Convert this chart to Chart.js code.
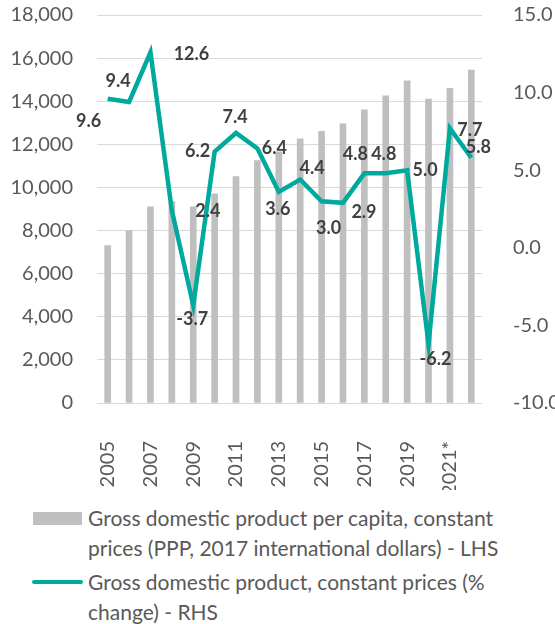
<!DOCTYPE html>
<html>
<head>
<meta charset="utf-8">
<script src="https://cdn.jsdelivr.net/npm/chart.js@4"></script>
<style>
  body { margin: 0; background: #fff; }
  #wrap { position: relative; width: 555px; height: 624px; }
  #chart { position: absolute; left: 0; top: 0; }
  #legend { position: absolute; left: 0; top: 0; font-family: Lato, sans-serif; font-size: 21px; color: #595959; }
  .item { position: absolute; left: 88px; line-height: 30px; width: 414px; }
  .swatch { position: absolute; }
</style>
</head>
<body>
<div id="wrap">
  <canvas id="chart" width="555" height="490"></canvas>
  <div id="legend"></div>
</div>
<script>
// categories
const years = ["2005", "2006", "2007", "2008", "2009", "2010", "2011", "2012", "2013",
   "2014", "2015", "2016", "2017", "2018", "2019", "2020", "2021*", "2022*"];

// GDP per capita, PPP 2017 intl $ (LHS)
const gdpPerCapita = [7300, 8000, 9100, 9350, 9100, 9700, 10500, 11250, 11650,
   12250, 12600, 12950, 13600, 14250, 14950, 14100, 14600, 15450];

// GDP growth % (RHS)
const gdpGrowth = [9.6, 9.4, 12.6, 2.4, -3.7, 6.2, 7.4, 6.4, 3.6,
   4.4, 3.0, 2.9, 4.8, 4.8, 5.0, -6.2, 7.7, 5.8];

const barLabel = "Gross domestic product per capita, constant prices (PPP, 2017 international dollars) - LHS";
const lineLabel = "Gross domestic product, constant prices (% change) - RHS";

// where each growth label sits relative to its point (dx, dy)
const labelOffsets = [[-19, 22], [-11, -21], [41, 2], [36, 1], [-1, 14], [-17, 0],
   [-1, -16], [17, 0], [-1, 17], [12, -11], [7, 27], [21, 9], [-9, -19], [-2, -19],
   [18, 0], [7, 15], [20, 2], [7, -11]];

const teal = "#00A99D";
const grey = "#BFBFBF";
const tickColor = "#595959";

// draws the growth numbers next to the line
const growthLabels = {
   id: "growthLabels",
   afterDatasetsDraw(chart) {
      const ctx = chart.ctx;
      const meta = chart.getDatasetMeta(1);
      ctx.save();
      ctx.font = "bold 18px Lato";
      ctx.fillStyle = "#404040";
      ctx.textAlign = "center";
      ctx.textBaseline = "middle";
      meta.data.forEach((pt, i) => {
         const off = labelOffsets[i];
         ctx.fillText(gdpGrowth[i].toFixed(1), pt.x + off[0], pt.y + off[1]);
      });
      ctx.restore();
   },
};

// keep the plot box where the reference has it
const noVPad = (s) => { s.paddingTop = 0; s.paddingBottom = 0; };

const chart = new Chart(document.getElementById("chart"), {
   type: "bar",
   data: {
      labels: years,
      datasets: [
         {
            type: "bar",
            label: barLabel,
            data: gdpPerCapita,
            backgroundColor: grey,
            barThickness: 6,
            yAxisID: "y",
            order: 1,
         },
         {
            type: "line",
            label: lineLabel,
            data: gdpGrowth,
            borderColor: teal,
            borderWidth: 4.5,
            pointRadius: 0,
            tension: 0,
            yAxisID: "y1",
            order: 0,
         },
      ],
   },
   options: {
      responsive: false,
      animation: false,
      layout: { padding: { top: 15, bottom: 0, left: 0, right: 0 } },
      plugins: { legend: { display: false }, tooltip: { enabled: false } },
      scales: {
         x: {
            grid: { display: false },
            border: { display: false },
            ticks: {
               autoSkip: false,
               minRotation: 90,
               maxRotation: 90,
               padding: 30,
               color: tickColor,
               font: { family: "Lato", size: 20 },
               callback: function (v, i) {
                  return i % 2 === 0 ? this.getLabelForValue(v) : "";
               },
            },
            afterFit: (s) => { s.height = 87; s.paddingLeft = 0; s.paddingRight = 0; },
         },
         y: {
            position: "left",
            min: 0,
            max: 18000,
            grid: { color: "#D9D9D9", lineWidth: 1, drawTicks: false },
            border: { display: false },
            ticks: {
               stepSize: 2000,
               padding: 24,
               color: tickColor,
               font: { family: "Lato", size: 20 },
               callback: (v) => v.toLocaleString("en-US"),
            },
            afterFit: (s) => { s.width = 97; noVPad(s); },
         },
         y1: {
            position: "right",
            min: -10,
            max: 15,
            grid: { display: false },
            border: { display: false },
            ticks: {
               stepSize: 5,
               padding: 23,
               color: tickColor,
               font: { family: "Lato", size: 20 },
               callback: (v) => v.toFixed(1),
            },
            afterFit: (s) => { s.width = 73; noVPad(s); },
         },
      },
   },
   plugins: [growthLabels],
});

// legend built from the dataset labels
const legend = document.getElementById("legend");
const rows = [
   { top: 503, swatch: "left:33px;top:512px;width:49px;height:13px;background:" + grey },
   { top: 567, swatch: "left:32px;top:580px;width:51px;height:4px;border-radius:2px;background:" + teal },
];
chart.data.datasets.forEach((ds, i) => {
   const sw = document.createElement("div");
   sw.className = "swatch";
   sw.style.cssText = rows[i].swatch;
   legend.appendChild(sw);
   const txt = document.createElement("div");
   txt.className = "item";
   txt.style.top = rows[i].top + "px";
   txt.textContent = ds.label;
   legend.appendChild(txt);
});
</script>
</body>
</html>
